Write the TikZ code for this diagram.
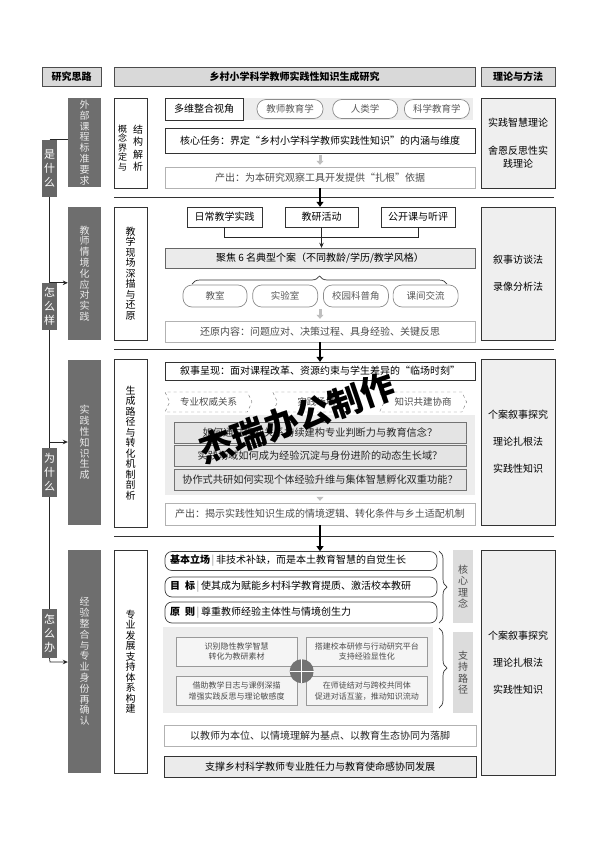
\documentclass[tikz,border=0pt]{standalone}
\usepackage{fontspec}
\setmainfont{Noto Sans CJK SC}
\XeTeXlinebreaklocale "zh"
\XeTeXlinebreakskip=0pt plus 1pt
\usepackage{tikz}
\usetikzlibrary{arrows.meta, positioning, decorations.pathreplacing,
                shapes.symbols, calc}
\definecolor{stagegrey}{HTML}{6E6E6E}
\definecolor{askgrey}{HTML}{666666}
\definecolor{headgrey}{HTML}{D9D9D9}
\definecolor{methgrey}{HTML}{EFEFEF}
\definecolor{panelgrey}{HTML}{EDEDED}
\definecolor{rowgrey}{HTML}{E4E4E4}
\definecolor{taggrey}{HTML}{DCDCDC}
\newcommand{\setfs}[2]{\fontsize{#1}{#2}\selectfont}
\newcommand{\tagsep}{\,{\color{black!45}|}\,}

\begin{document}
\begin{tikzpicture}[
  x=1pt, y=-1pt, >=Stealth,
  hdr/.style={draw=black!70, fill=headgrey, font=\bfseries\setfs{10}{12},
              minimum height=19pt, inner sep=0pt},
  askbox/.style={fill=askgrey, text=white, font=\setfs{11}{14},
                 text width=1.2em, align=center, minimum width=15pt, inner sep=0pt},
  stagebox/.style={fill=stagegrey, text=white!92!black, font=\setfs{10}{10.8},
                   text width=1.2em, align=center, minimum width=33pt, inner sep=0pt},
  aimbox/.style={draw=black!80, fill=white, font=\setfs{10}{10.5},
                 text width=1.2em, align=center, minimum width=33pt, inner sep=0pt},
  methbox/.style={draw=black!80, fill=methgrey, font=\setfs{10}{13},
                  align=center, minimum width=74pt, inner sep=0pt},
  mainbox/.style={draw=black!80, fill=white, font=\setfs{10}{12},
                  minimum width=310pt, inner sep=0pt},
  outbox/.style={draw=black!30, fill=white, text=black!70, font=\setfs{10}{12},
                 minimum width=310pt, inner sep=0pt},
  srcbox/.style={draw=black!80, fill=white, font=\setfs{10}{12},
                 minimum height=20pt, inner sep=0pt},
  pill/.style={draw=black!45, line width=0.7pt, fill=white, text=black!65,
               rounded corners=9pt, font=\setfs{9.5}{11},
               minimum width=65pt, minimum height=19pt, inner sep=0pt},
  relbox/.style={shape=signal, signal from=west, signal to=east,
                 signal pointer angle=130, draw=black!55, dashed, fill=white,
                 text=black!70, font=\setfs{9.5}{11},
                 minimum width=87pt, minimum height=20pt, inner sep=0pt},
  qrow/.style={draw=black!55, fill=rowgrey, text=black!85, font=\setfs{10.2}{12},
               minimum width=292pt, minimum height=21pt, inner sep=0pt},
  idea/.style={draw=black!75, line width=0.7pt, rounded corners=7pt, fill=white,
               text width=262pt, align=left, inner xsep=5pt, inner ysep=0pt,
               font=\setfs{10}{12}},
  tagbox/.style={fill=taggrey, text=black!70, font=\setfs{10}{11.5},
                 text width=1.2em, align=center, minimum width=20pt, inner sep=0pt},
  pathbox/.style={draw=black!40, fill=white!96!black, text=black!70,
                  font=\setfs{8}{10.5}, align=center,
                  minimum width=121pt, minimum height=29pt, inner sep=0pt},
  panel/.style={fill=panelgrey, inner sep=0pt},
  link/.style={draw=black!85, line width=0.7pt},
  larr/.style={link, -{Stealth[length=5pt, width=4.5pt]}},
  bigarr/.style={draw=black, line width=2.6pt, -{Triangle[length=5pt, width=7pt]}},
  garr/.style={draw=black!25, line width=3pt, -{Triangle[length=4pt, width=7pt]},
               shorten <=2pt, shorten >=2pt},
  sepline/.style={draw=black!80, line width=0.9pt},
  brc/.style={draw=black!80, line width=0.7pt,
              decorate, decoration={brace, amplitude=8pt}}
]
  \useasboundingbox (0,0) rectangle (594,841);
  \fill[white] (0,0) rectangle (594,841);

  % header row
  \node[hdr, minimum width=59pt] (hL) at (71.5,76.5) {研究思路};
  \node[hdr, minimum width=361pt] (hT) at (294.5,76.5) {乡村小学科学教师实践性知识生成研究};
  \node[hdr, minimum width=74pt] (hR) at (518,76.5) {理论与方法};

  % research line: questions
  \node[askbox, minimum height=57pt] (q1) at (49.5,168.5) {是什么};
  \node[askbox, minimum height=47pt] (q2) at (49.5,306.5) {怎么样};
  \node[askbox, minimum height=49pt] (q3) at (49.5,472.5) {为什么};
  \node[askbox, minimum height=49pt] (q4) at (49.5,633.5) {怎么办};

  % stages
  \node[stagebox, minimum height=89pt] (d1) at (84.5,142.5) {外部课程标准要求};
  \node[stagebox, minimum height=133pt] (d2) at (84.5,273.5) {教师情境化应对实践};
  \node[stagebox, minimum height=165pt] (d3) at (84.5,442.5) {实践性知识生成};
  \node[stagebox, minimum height=223pt] (d4) at (84.5,661.5) {经验整合与专业身份再确认};

  \coordinate (j3) at (50,442);
  \coordinate (j4) at (50,662);
  \draw[link] (q1.north) -- (q1.north -| d1.west);
  \draw[link] (q1.south) -- (q2.north);
  \draw[link] (q2.south) -- (q3.north);
  \draw[link] (q3.south) -- (q4.north);
  \draw[larr] (q2.north) -- (q2.north -| d2.west);
  \draw[larr] (j3) -- (j3 -| d3.west);
  \draw[larr] (q4.south) -- (j4) -- (j4 -| d4.west);

  % aims
  \node[aimbox, minimum height=90pt] (s1) at (130.5,143) {};
  \node[font=\setfs{9}{9.5}, text width=1.1em, align=center, inner sep=0pt]
    (s1a) at (122.5,148) {概念界定与};
  \node[font=\setfs{10}{12.5}, text width=1.2em, align=center, inner sep=0pt]
    (s1b) at (138,148) {结构解析};
  \node[aimbox, minimum height=133pt] (s2) at (130.5,273.5) {教学现场深描与还原};
  \node[aimbox, minimum height=168pt] (s3) at (130.5,443) {生成路径与转化机制剖析};
  \node[aimbox, minimum height=223pt] (s4) at (130.5,661.5) {专业发展支持体系构建};

  % methods
  \node[methbox, minimum height=90pt] (m1) at (518,143)
    {实践智慧理论\\[15pt]舍恩反思性实\\践理论};
  \node[methbox, minimum height=133pt] (m2) at (518,273.5)
    {叙事访谈法\\[14pt]录像分析法};
  \node[methbox, minimum height=166pt] (m3) at (518,442)
    {个案叙事探究\\[14pt]理论扎根法\\[14pt]实践性知识};
  \node[methbox, minimum height=225pt] (m4) at (518,662.5)
    {个案叙事探究\\[14pt]理论扎根法\\[14pt]实践性知识};

  \draw[sepline] (114,197) -- (554,197);
  \draw[sepline] (114,349) -- (554,349);
  \draw[sepline] (114,536) -- (554,536);

  % stage 1
  \node[panel, minimum width=308pt, minimum height=22pt] (band) at (319,109) {};
  \node[srcbox, minimum width=78pt, minimum height=22pt] (view) at (204,109) {多维整合视角};
  \node[pill, minimum width=66pt] (p1) at (290,109) {教师教育学};
  \node[pill, right=9pt of p1] (p2) {人类学};
  \node[pill, right=6pt of p2] (p3) {科学教育学};
  \node[mainbox, minimum height=25pt] (task) at (320,140.5)
    {核心任务：界定“乡村小学科学教师实践性知识”的内涵与维度};
  \node[outbox, minimum height=21pt] (out1) at (320,177.5)
    {产出：为本研究观察工具开发提供“扎根”依据};
  \draw[garr] (task) -- (out1);

  % stage 2
  \node[srcbox, minimum width=75pt] (e1) at (224.5,217) {日常教学实践};
  \node[srcbox, minimum width=73pt] (e2) at (321.5,217) {教研活动};
  \node[srcbox, minimum width=74pt] (e3) at (418,217) {公开课与听评};
  \node[mainbox, fill=black!8, draw=black!60, minimum height=20pt] (focus) at (320,258)
    {聚焦 6 名典型个案（不同教龄/学历/教学风格）};
  \draw[link] (e1.south) -- ++(0,10) -| (e3.south);
  \draw[larr] (e2.south) -- (e2.south |- focus.north);
  \draw[brc] (192,284) -- (447,284);
  \node[pill, minimum height=22pt, minimum width=64pt] (t1) at (215,296) {教室};
  \node[pill, minimum height=22pt, right=5pt of t1] (t2) {实验室};
  \node[pill, minimum height=22pt, right=5pt of t2] (t3) {校园科普角};
  \node[pill, minimum height=22pt, right=4pt of t3] (t4) {课间交流};
  \node[outbox, minimum height=21pt] (restore) at (320,331.5)
    {还原内容：问题应对、决策过程、具身经验、关键反思};
  \draw[garr] (restore.north |- t2.south) -- (restore.north);

  % stage 3
  \node[mainbox, minimum height=18pt] (story) at (320,371)
    {叙事呈现：面对课程改革、资源约束与学生差异的“临场时刻”};
  \node[relbox] (h1) at (208.5,402) {专业权威关系};
  \node[relbox, right=25pt of h1] (h2) {实践场域};
  \node[relbox, right=24pt of h2] (h3) {知识共建协商};
  \node[panel, minimum width=310pt, minimum height=80pt] (panel3) at (320,455) {};
  \node[qrow] (r1) at (320,432.5) {如何通过权威关系持续建构专业判断力与教育信念？};
  \node[qrow, below=2pt of r1] (r2) {实践场域如何成为经验沉淀与身份进阶的动态生长域？};
  \node[qrow, below=2pt of r2] (r3) {协作式共研如何实现个体经验升维与集体智慧孵化双重功能？};
  \node[outbox, minimum height=22pt] (out3) at (320,514)
    {产出：揭示实践性知识生成的情境逻辑、转化条件与乡土适配机制};
  \draw[garr] (panel3) -- (out3);

  % stage 4
  \node[idea, minimum height=19pt] (c1) at (301,561)
    {\textbf{基本立场}\tagsep 非技术补缺，而是本土教育智慧的自觉生长};
  \node[idea, minimum height=20pt] (c2) at (301,587)
    {\textbf{目\enspace 标}\tagsep 使其成为赋能乡村科学教育提质、激活校本教研};
  \node[idea, minimum height=21pt] (c3) at (301,612.5)
    {\textbf{原\enspace 则}\tagsep 尊重教师经验主体性与情境创生力};
  \draw[brc] (439,551) -- (439,623);
  \node[tagbox, minimum height=73pt] (k1) at (463,586.5) {核心理念};

  \node[panel, minimum width=270pt, minimum height=86pt] (panel4) at (298,670) {};
  \node[pathbox] (f1) at (236.5,651.5) {识别隐性教学智慧\\转化为教研素材};
  \node[pathbox, right=9pt of f1] (f2) {搭建校本研修与行动研究平台\\支持经验显性化};
  \node[pathbox, below=10pt of f1] (f3) {借助教学日志与课例深描\\增强实践反思与理论敏感度};
  \node[pathbox, below=10pt of f2] (f4) {在师徒结对与跨校共同体\\促进对话互鉴，推动知识流动};
  \node[circle, fill=black!55, minimum size=24pt, inner sep=0pt] (hub)
    at ($(f1.south east)!0.5!(f4.north west)$) {};
  \draw[white, line width=1pt] (hub.north) -- (hub.south);
  \draw[white, line width=1pt] (hub.west) -- (hub.east);
  \draw[brc] (439,628) -- (439,708);
  \node[tagbox, minimum height=81pt] (k2) at (463,672.5) {支持路径};

  \node[outbox, text=black!85, minimum width=312pt, minimum height=21pt] (base) at (320,735.5)
    {以教师为本位、以情境理解为基点、以教育生态协同为落脚};
  \node[mainbox, fill=black!8, line width=0.9pt, minimum width=312pt, minimum height=21pt]
    (goal) at (320,766.5) {支撑乡村科学教师专业胜任力与教育使命感协同发展};

  % stage links
  \draw[bigarr] (out1.south) -- (out1.south |- e2.north);
  \draw[bigarr] (restore.south) -- (story.north);
  \draw[bigarr] (out3.south) -- (out3.south |- c1.north);

  % watermark
  \node[rotate=19, font=\bfseries\setfs{34}{34}] (mark) at (297,418) {杰瑞办公制作};
\end{tikzpicture}
\end{document}
